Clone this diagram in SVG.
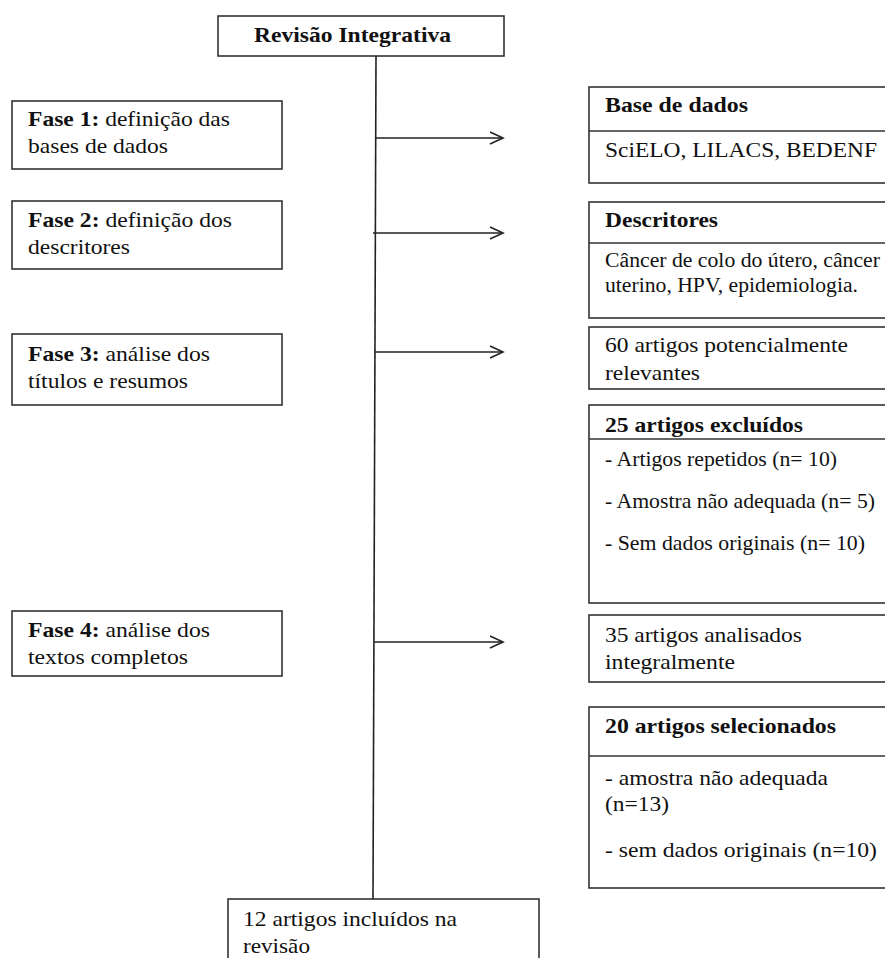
<svg xmlns="http://www.w3.org/2000/svg" width="885" height="958" viewBox="0 0 885 958">
<style>
.box{fill:#fff;stroke:#333;stroke-width:1.6}
.div{stroke:#333;stroke-width:1.4}
.t{font-family:"Liberation Serif","Times New Roman",serif;font-size:21.5px;fill:#111}
.b{font-weight:bold}
.s{font-size:20.5px}
.con{stroke:#222;stroke-width:1.6;fill:none}
</style>
<defs>
<marker id="arr" markerWidth="16" markerHeight="14" refX="14" refY="7" orient="auto" markerUnits="userSpaceOnUse">
<path d="M1,1 L14,7 L1,13" fill="none" stroke="#222" stroke-width="1.6"/>
</marker>
</defs>
<rect width="885" height="958" fill="#fff"/>

<g id="connectors">
<line class="con" x1="376" y1="56" x2="373" y2="899"/>
<line class="con" x1="376" y1="138" x2="503" y2="138" marker-end="url(#arr)"/>
<line class="con" x1="373" y1="233" x2="503" y2="233" marker-end="url(#arr)"/>
<line class="con" x1="375" y1="352" x2="503" y2="352" marker-end="url(#arr)"/>
<line class="con" x1="374" y1="642" x2="503" y2="642" marker-end="url(#arr)"/>
</g>

<g id="revisao">
<rect class="box" x="218" y="16" width="286" height="40"/>
<text class="t b" x="254" y="42" textLength="197" lengthAdjust="spacingAndGlyphs">Revisão Integrativa</text>
</g>

<g id="fase1">
<rect class="box" x="12" y="101" width="270" height="68"/>
<text class="t" x="28" y="126" textLength="202" lengthAdjust="spacingAndGlyphs"><tspan class="b">Fase 1:</tspan> definição das</text>
<text class="t" x="28" y="153" textLength="140" lengthAdjust="spacingAndGlyphs">bases de dados</text>
</g>

<g id="fase2">
<rect class="box" x="12" y="201" width="270" height="68"/>
<text class="t" x="28" y="227" textLength="204" lengthAdjust="spacingAndGlyphs"><tspan class="b">Fase 2:</tspan> definição dos</text>
<text class="t" x="28" y="254" textLength="102" lengthAdjust="spacingAndGlyphs">descritores</text>
</g>

<g id="fase3">
<rect class="box" x="12" y="334" width="270" height="71"/>
<text class="t" x="28" y="361" textLength="182" lengthAdjust="spacingAndGlyphs"><tspan class="b">Fase 3:</tspan> análise dos</text>
<text class="t" x="28" y="388" textLength="160" lengthAdjust="spacingAndGlyphs">títulos e resumos</text>
</g>

<g id="fase4">
<rect class="box" x="12" y="611" width="270" height="65"/>
<text class="t" x="28" y="637" textLength="182" lengthAdjust="spacingAndGlyphs"><tspan class="b">Fase 4:</tspan> análise dos</text>
<text class="t" x="28" y="664" textLength="160" lengthAdjust="spacingAndGlyphs">textos completos</text>
</g>

<g id="base-dados">
<rect class="box" x="589" y="87" width="320" height="96"/>
<line class="div" x1="589" y1="131" x2="900" y2="131"/>
<text class="t b" x="605" y="112" textLength="143" lengthAdjust="spacingAndGlyphs">Base de dados</text>
<text class="t" x="605" y="157" textLength="272" lengthAdjust="spacingAndGlyphs">SciELO, LILACS, BEDENF</text>
</g>

<g id="descritores">
<rect class="box" x="589" y="202" width="320" height="116"/>
<line class="div" x1="589" y1="243" x2="900" y2="243"/>
<text class="t b" x="605" y="227" textLength="113" lengthAdjust="spacingAndGlyphs">Descritores</text>
<text class="t s" x="605" y="267" textLength="275" lengthAdjust="spacingAndGlyphs">Câncer de colo do útero, câncer</text>
<text class="t s" x="605" y="292" textLength="253" lengthAdjust="spacingAndGlyphs">uterino, HPV, epidemiologia.</text>
</g>

<g id="relevantes">
<rect class="box" x="589" y="327" width="320" height="62"/>
<text class="t" x="605" y="352" textLength="243" lengthAdjust="spacingAndGlyphs">60 artigos potencialmente</text>
<text class="t" x="605" y="380" textLength="95" lengthAdjust="spacingAndGlyphs">relevantes</text>
</g>

<g id="excluidos">
<rect class="box" x="589" y="405" width="320" height="198"/>
<line class="div" x1="589" y1="439" x2="900" y2="439"/>
<text class="t b" x="605" y="432" textLength="198" lengthAdjust="spacingAndGlyphs">25 artigos excluídos</text>
<text class="t" x="605" y="466" textLength="232" lengthAdjust="spacingAndGlyphs">- Artigos repetidos (n= 10)</text>
<text class="t" x="605" y="508" textLength="270" lengthAdjust="spacingAndGlyphs">- Amostra não adequada (n= 5)</text>
<text class="t" x="605" y="550" textLength="260" lengthAdjust="spacingAndGlyphs">- Sem dados originais (n= 10)</text>
</g>

<g id="analisados">
<rect class="box" x="589" y="615" width="320" height="67"/>
<text class="t" x="605" y="642" textLength="197" lengthAdjust="spacingAndGlyphs">35 artigos analisados</text>
<text class="t" x="605" y="669" textLength="130" lengthAdjust="spacingAndGlyphs">integralmente</text>
</g>

<g id="selecionados">
<rect class="box" x="589" y="707" width="320" height="181"/>
<line class="div" x1="589" y1="756" x2="900" y2="756"/>
<text class="t b" x="605" y="733" textLength="231" lengthAdjust="spacingAndGlyphs">20 artigos selecionados</text>
<text class="t" x="605" y="785" textLength="223" lengthAdjust="spacingAndGlyphs">- amostra não adequada</text>
<text class="t" x="605" y="811" textLength="64" lengthAdjust="spacingAndGlyphs">(n=13)</text>
<text class="t" x="605" y="857" textLength="272" lengthAdjust="spacingAndGlyphs">- sem dados originais (n=10)</text>
</g>

<g id="incluidos">
<rect class="box" x="228" y="899" width="311" height="80"/>
<text class="t" x="243" y="926" textLength="214" lengthAdjust="spacingAndGlyphs">12 artigos incluídos na</text>
<text class="t" x="243" y="953" textLength="67" lengthAdjust="spacingAndGlyphs">revisão</text>
</g>
</svg>
